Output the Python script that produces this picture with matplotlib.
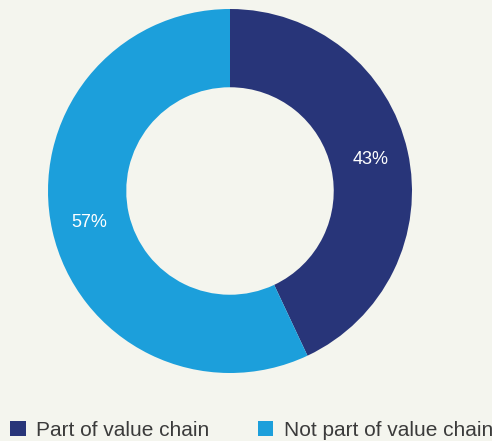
import matplotlib.pyplot as plt

# Data
labels = ["Part of value chain", "Not part of value chain"]
values = [43, 57]
colors = ["#283579", "#1c9fdb"]

bg = "#f4f5ee"
plt.rcParams["font.family"] = ["Liberation Sans", "DejaVu Sans"]

fig = plt.figure(figsize=(4.92, 4.41), dpi=100, facecolor=bg)

# Donut axes: centre ~(230,191) px, outer radius ~182 px
cx, cy, r = 230, 191, 182
ax = fig.add_axes([(cx - r) / 492, (441 - cy - r) / 441, 2 * r / 492, 2 * r / 441])
ax.set_facecolor(bg)

wedges, texts, autotexts = ax.pie(
    values,
    colors=colors,
    startangle=90,
    counterclock=False,
    autopct="%d%%",
    pctdistance=0.79,
    wedgeprops=dict(width=0.43, edgecolor="none"),
    textprops=dict(color="white", fontsize=13),
)
ax.set_xlim(-1, 1)
ax.set_ylim(-1, 1)
ax.set_aspect("equal")

# Legend along the bottom
fig.legend(
    wedges,
    labels,
    loc="lower left",
    bbox_to_anchor=(-0.017, -0.04),
    ncol=2,
    frameon=False,
    fontsize=15,
    handlelength=0.75,
    handleheight=0.75,
    handletextpad=0.5,
    columnspacing=2.3,
    labelcolor="#3b3b3b",
)

fig.savefig("out.png", dpi=100, facecolor=bg)
